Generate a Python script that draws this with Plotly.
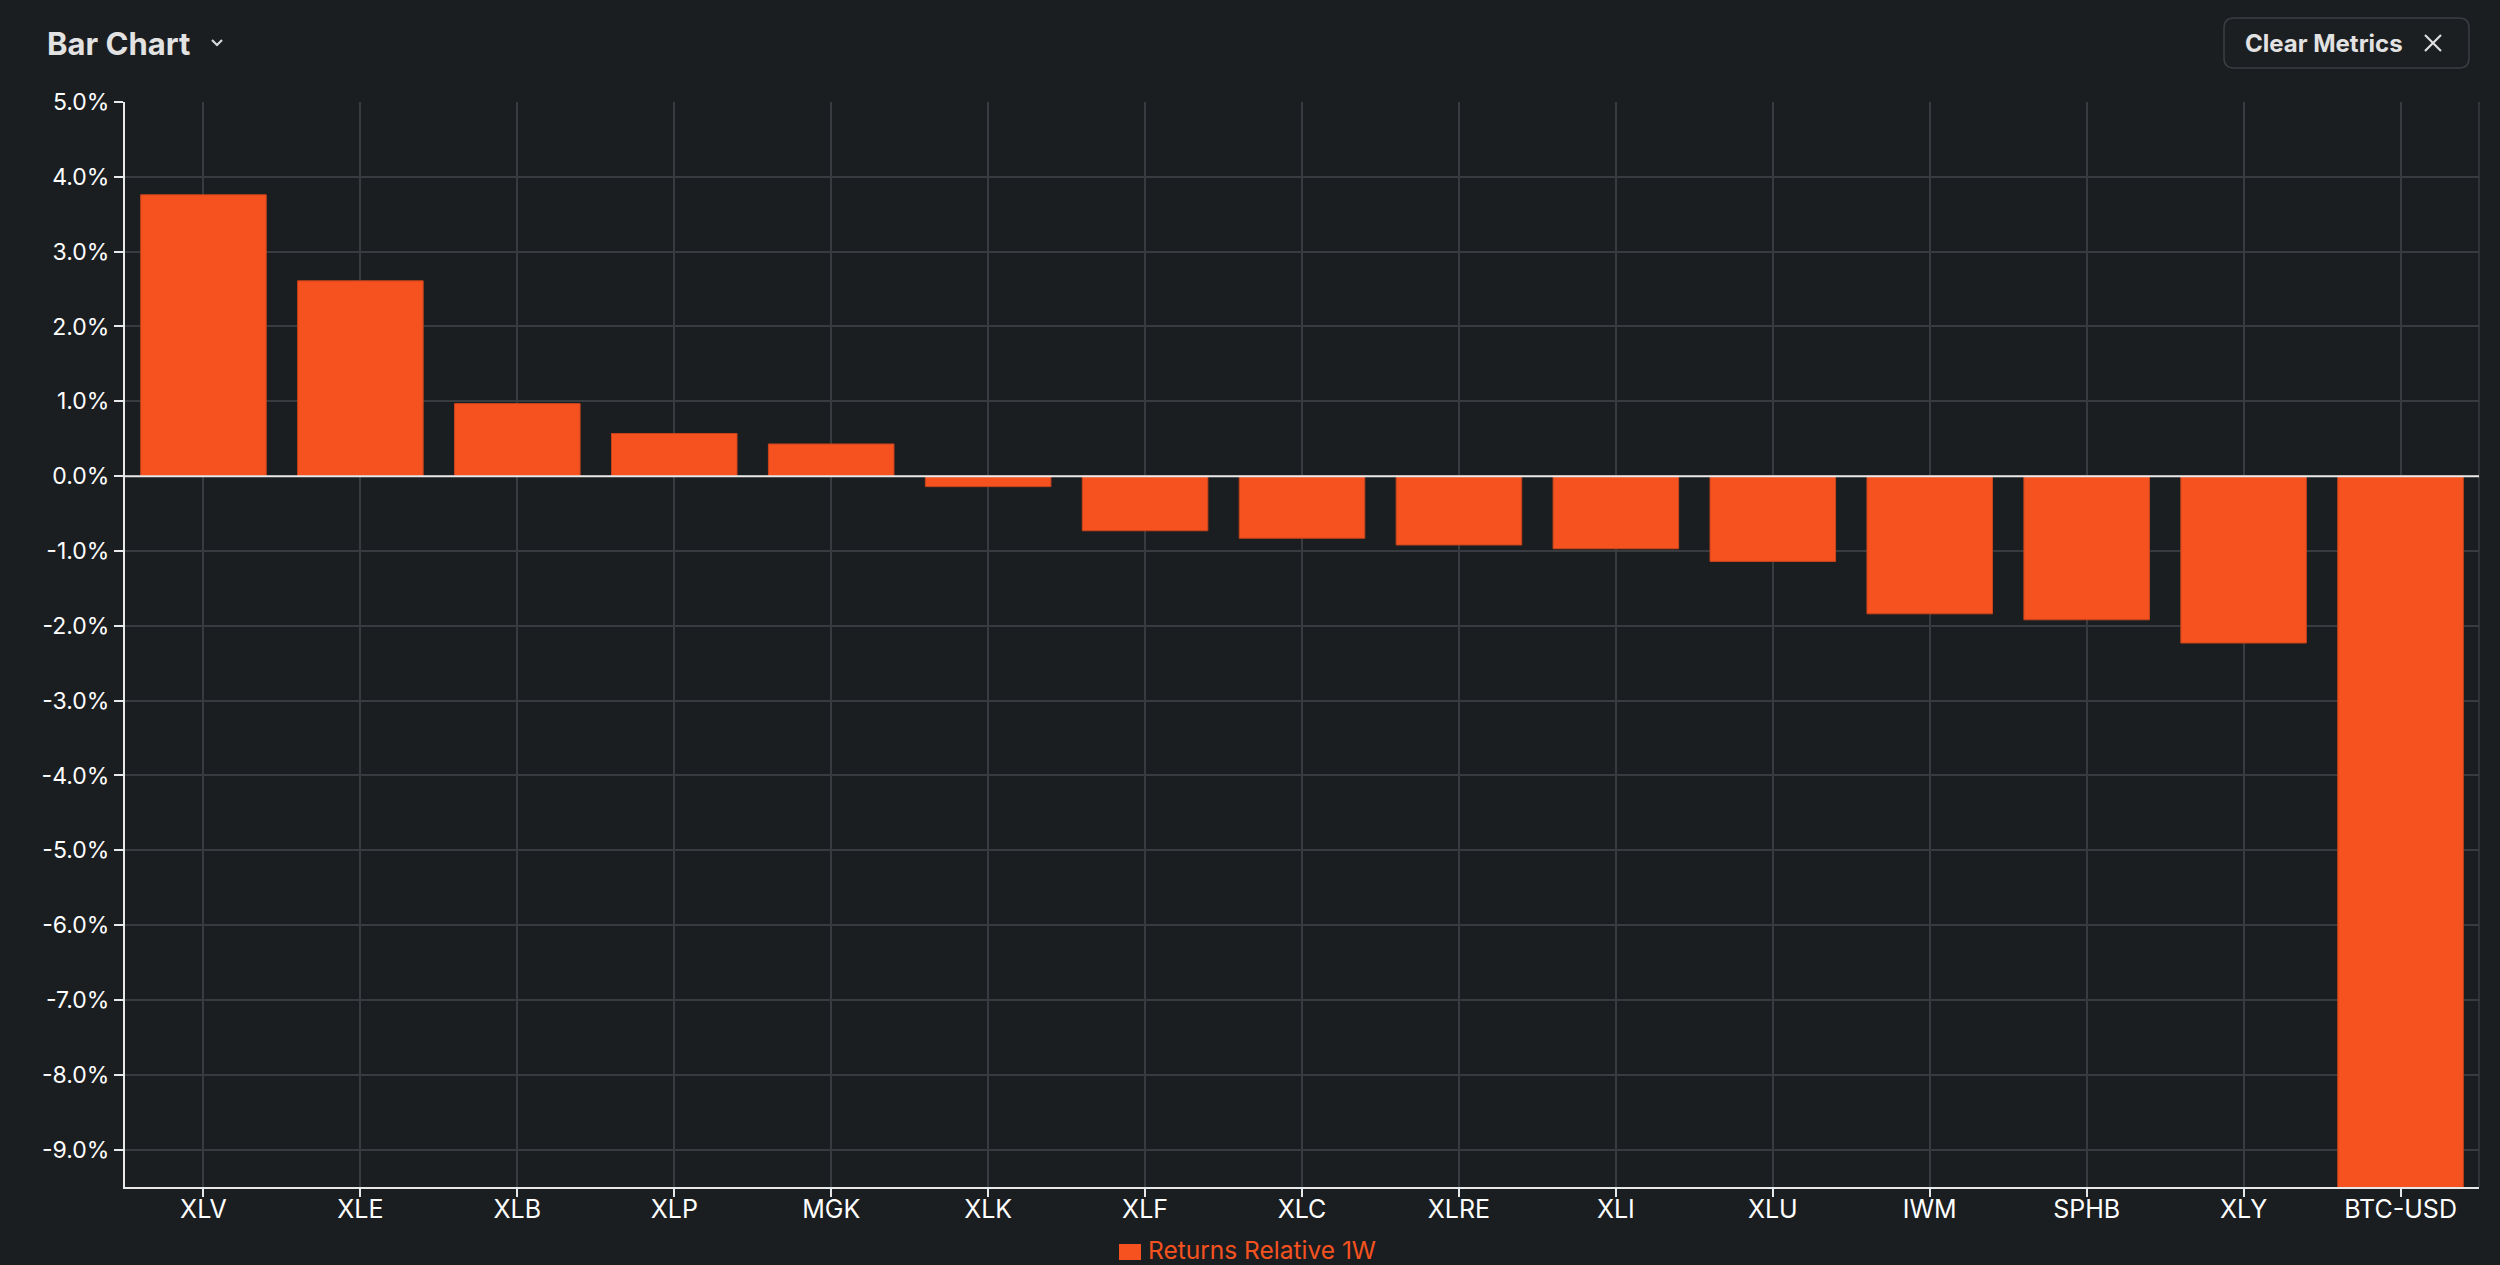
import plotly.graph_objects as go

tickers = ["XLV", "XLE", "XLB", "XLP", "MGK", "XLK", "XLF", "XLC", "XLRE", "XLI",
           "XLU", "IWM", "SPHB", "XLY", "BTC-USD"]
returns_1w = [3.76, 2.61, 0.97, 0.57, 0.43, -0.14, -0.73, -0.83, -0.92, -0.97,
              -1.14, -1.84, -1.92, -2.23, -9.52]
y_ticks = [5, 4, 3, 2, 1, 0, -1, -2, -3, -4, -5, -6, -7, -8, -9]
y_tick_labels = [f"{v:.1f}%" for v in y_ticks]
series_name = "Returns Relative 1W"

W, H = 2500, 1265
L, R, T, B = 125, 21, 102, 78
PW, PH = W - L - R, H - T - B

def px(x):
    return (x - L) / PW

def py(y):
    return (H - B - y) / PH

BG = "#1b1e21"
ORANGE = "#f55220"
GRID = "#383b3f"
FONT = "Inter, Roboto, sans-serif"

fig = go.Figure()
fig.add_trace(go.Bar(
    x=tickers, y=returns_1w, name=series_name,
    marker=dict(color=ORANGE, line=dict(color="#c9441b", width=1)),
    showlegend=False,
))

shapes = []
# right border of plot
shapes.append(dict(type="line", xref="paper", yref="paper", x0=1, x1=1, y0=0, y1=1,
                   line=dict(color=GRID, width=1.5), layer="below"))
# zero line
shapes.append(dict(type="line", xref="paper", yref="y", x0=0, x1=1, y0=0, y1=0,
                   line=dict(color="#e8e8e8", width=2), layer="above"))

# chevron next to title
cx, cy = 217, 43
shapes.append(dict(type="path", xref="paper", yref="paper",
                   path=f"M {px(cx-5)},{py(cy-3)} L {px(cx)},{py(cy+2)} L {px(cx+5)},{py(cy-3)}",
                   line=dict(color="#d8d8d8", width=2.2)))

# Clear Metrics button (rounded rectangle)
bx0, bx1, by0, by1, r = 2224, 2469, 18, 68, 10
def P(x, y):
    return f"{px(x)},{py(y)}"
path = (f"M {P(bx0+r, by0)} L {P(bx1-r, by0)} Q {P(bx1, by0)} {P(bx1, by0+r)} "
        f"L {P(bx1, by1-r)} Q {P(bx1, by1)} {P(bx1-r, by1)} L {P(bx0+r, by1)} "
        f"Q {P(bx0, by1)} {P(bx0, by1-r)} L {P(bx0, by0+r)} Q {P(bx0, by0)} {P(bx0+r, by0)} Z")
shapes.append(dict(type="path", xref="paper", yref="paper", path=path,
                   line=dict(color="#3a3e42", width=1.5), fillcolor="#1c1f22"))
# X icon
ix0, ix1, iy0, iy1 = 2425, 2441, 35, 51
shapes.append(dict(type="line", xref="paper", yref="paper", x0=px(ix0), x1=px(ix1), y0=py(iy0), y1=py(iy1),
                   line=dict(color="#e0e0e0", width=2.2)))
shapes.append(dict(type="line", xref="paper", yref="paper", x0=px(ix0), x1=px(ix1), y0=py(iy1), y1=py(iy0),
                   line=dict(color="#e0e0e0", width=2.2)))

# legend swatch
shapes.append(dict(type="rect", xref="paper", yref="paper",
                   x0=px(1119), x1=px(1141), y0=py(1244), y1=py(1260),
                   fillcolor=ORANGE, line=dict(width=0)))

annotations = [
    dict(text="<b>Bar Chart</b>", xref="paper", yref="paper", x=px(45), y=py(43),
         xanchor="left", yanchor="middle", showarrow=False,
         font=dict(family=FONT, size=31, color="#e2e2e2")),
    dict(text="<b>Clear Metrics</b>", xref="paper", yref="paper", x=px(2243), y=py(43),
         xanchor="left", yanchor="middle", showarrow=False,
         font=dict(family=FONT, size=24, color="#e2e2e2")),
    dict(text=series_name, xref="paper", yref="paper", x=px(1147), y=py(1250),
         xanchor="left", yanchor="middle", showarrow=False, borderpad=0,
         font=dict(family=FONT, size=24.5, color=ORANGE)),
]

fig.update_layout(
    width=W, height=H,
    margin=dict(l=L, r=R, t=T, b=B, pad=0, autoexpand=False),
    paper_bgcolor=BG, plot_bgcolor=BG,
    font=dict(family=FONT, color="#ffffff"),
    bargap=0.2,
    showlegend=False,
    xaxis=dict(
        type="category", showgrid=True, gridcolor=GRID, gridwidth=1.5,
        showline=True, linecolor="#e8e8e8", linewidth=2,
        ticks="outside", ticklen=8, tickwidth=1.5, tickcolor="#e8e8e8",
        tickfont=dict(family=FONT, size=25, color="#ffffff"),
        ticklabelstandoff=-9,
        zeroline=False, fixedrange=True,
    ),
    yaxis=dict(
        range=[-9.5, 5], tickvals=y_ticks, ticktext=y_tick_labels,
        showgrid=True, gridcolor=GRID, gridwidth=1.5,
        showline=True, linecolor="#e8e8e8", linewidth=2,
        ticks="outside", ticklen=9, tickwidth=1.5, tickcolor="#e8e8e8",
        tickfont=dict(family=FONT, size=23, color="#ffffff"),
        zeroline=False, fixedrange=True,
    ),
    shapes=shapes,
    annotations=annotations,
)

fig.write_html(
    "out.html",
    config={"displayModeBar": False},
    post_script="document.body.style.margin='0';document.body.style.padding='0';"
                "document.body.style.background='#1b1e21';document.body.style.overflow='hidden';",
)
